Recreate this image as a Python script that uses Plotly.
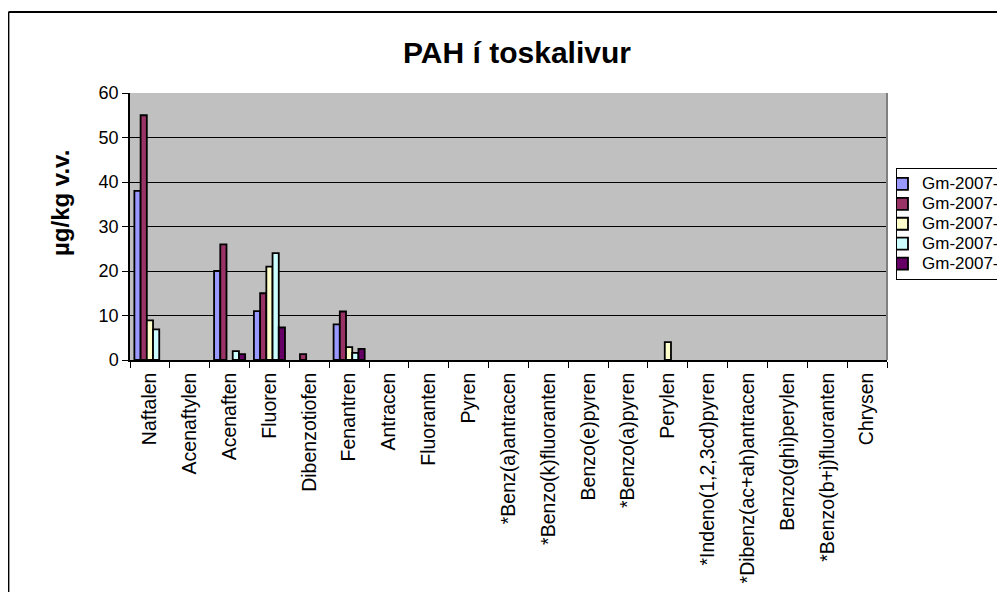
import plotly.graph_objects as go

categories = ["Naftalen", "Acenaftylen", "Acenaften", "Fluoren", "Dibenzotiofen", "Fenantren",
              "Antracen", "Fluoranten", "Pyren", "*Benz(a)antracen", "*Benzo(k)fluoranten",
              "Benzo(e)pyren", "*Benzo(a)pyren", "Perylen", "*Indeno(1,2,3cd)pyren",
              "*Dibenz(ac+ah)antracen", "Benzo(ghi)perylen", "*Benzo(b+j)fluoranten", "Chrysen"]

series_names = ["Gm-2007-", "Gm-2007-", "Gm-2007-", "Gm-2007-", "Gm-2007-"]
s1 = [38, 0, 20, 11, 0, 8, 0, 0, 0, 0, 0, 0, 0, 0, 0, 0, 0, 0, 0]
s2 = [55, 0, 26, 15, 1.3, 10.9, 0, 0, 0, 0, 0, 0, 0, 0, 0, 0, 0, 0, 0]
s3 = [8.9, 0, 0, 21, 0, 2.9, 0, 0, 0, 0, 0, 0, 0, 4, 0, 0, 0, 0, 0]
s4 = [6.9, 0, 2, 24, 0, 1.6, 0, 0, 0, 0, 0, 0, 0, 0, 0, 0, 0, 0, 0]
s5 = [0, 0, 1.3, 7.3, 0, 2.5, 0, 0, 0, 0, 0, 0, 0, 0, 0, 0, 0, 0, 0]
colors = ["#9999FF", "#993366", "#FFFFCC", "#CCFFFF", "#660066"]

fig = go.Figure()
for name, vals, col in zip(series_names, [s1, s2, s3, s4, s5], colors):
    fig.add_trace(go.Bar(
        x=categories, y=[v if v > 0 else None for v in vals],
        name="<span style='font-size:17px'>" + name + "</span>",
        marker=dict(color=col, line=dict(color="black", width=1.8)),
    ))

# page has an 8px body margin, so figure coords = screen coords - 8
W, H = 997, 584
L, R, T, B = 122, 879, 85, 352
pw, ph = R - L, B - T

def px2x(p):
    return (p - L) / pw

def px2y(p):
    return (B - p) / ph

fig.update_layout(
    width=W, height=H,
    margin=dict(l=L, r=W - R, t=T, b=H - B, autoexpand=False),
    paper_bgcolor="white", plot_bgcolor="#C0C0C0",
    barmode="group", bargap=0.22, bargroupgap=0,
    font=dict(family="Liberation Sans, Arial, sans-serif", color="black", size=18),
    title=dict(text="<b>PAH í toskalivur</b>", x=px2x(509), xanchor="center", xref="paper",
               y=1 - 44 / H, yanchor="middle", font=dict(size=30)),
    showlegend=True,
    legend=dict(x=px2x(888), y=px2y(160), xanchor="left", yanchor="top",
                bgcolor="white", bordercolor="black", borderwidth=1,
                font=dict(size=13), traceorder="normal", itemwidth=30,
                indentation=-15, tracegroupgap=0),
    xaxis=dict(type="category", tickangle=-90, tickson="boundaries", ticks="outside",
               ticklen=6, tickcolor="black", showline=True, linecolor="black", linewidth=1.5,
               showgrid=False, tickfont=dict(size=19.5), ticklabelstandoff=3),
    yaxis=dict(range=[0, 60], dtick=10, showgrid=True, gridcolor="black", gridwidth=1.2,
               ticks="outside", ticklen=6, tickcolor="black", showline=True,
               linecolor="black", linewidth=1.5, tickfont=dict(size=18),
               zeroline=False),
    annotations=[
        dict(text="<b>µg/kg v.v.</b>", textangle=-90, xref="paper", yref="paper",
             x=px2x(52), y=px2y(195), xanchor="center", yanchor="middle",
             showarrow=False, font=dict(size=24)),
    ],
    shapes=[
        dict(type="line", xref="paper", yref="paper", x0=px2x(0.5), x1=px2x(0.5),
             y0=px2y(4), y1=px2y(H + 20), line=dict(color="black", width=1.8)),
        dict(type="line", xref="paper", yref="paper", x0=px2x(0.5), x1=px2x(W + 20),
             y0=px2y(4), y1=px2y(4), line=dict(color="black", width=1.8)),
        dict(type="line", xref="paper", yref="paper", x0=1, x1=1, y0=0, y1=1,
             line=dict(color="#808080", width=2)),
    ],
)

fig.write_html("out.html")
